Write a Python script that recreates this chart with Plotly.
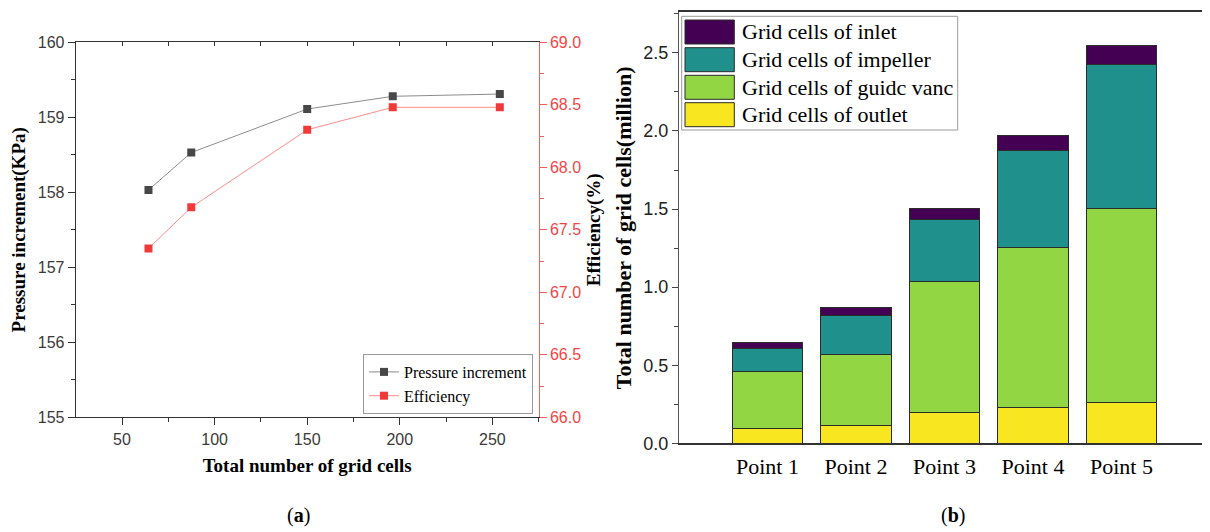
import plotly.graph_objects as go

# ---------------- data ----------------
grid_cells = [64.3, 87.4, 150, 196.2, 254]          # total grid cells (x 10^4)
pressure = [158.03, 158.53, 159.11, 159.28, 159.31]  # KPa
efficiency = [67.35, 67.68, 68.30, 68.48, 68.48]     # %

points = ["Point 1", "Point 2", "Point 3", "Point 4", "Point 5"]
outlet = [0.096, 0.113, 0.197, 0.231, 0.263]
guide_vane = [0.361, 0.456, 0.837, 1.021, 1.239]
impeller = [0.147, 0.251, 0.400, 0.620, 0.921]
inlet = [0.039, 0.050, 0.068, 0.096, 0.126]

bar_names = ["Grid cells of outlet", "Grid cells of guidc vanc",
             "Grid cells of impeller", "Grid cells of inlet"]
bar_values = [outlet, guide_vane, impeller, inlet]
bar_colors = ["#f8e621", "#92d644", "#20908c", "#440154"]

OFF = 8                      # page body margin
W, H = 1210 - OFF, 532 - OFF
def px(x): return (x - OFF) / W
def py(y): return 1 - (y - OFF) / H

SERIF = "Liberation Serif"
SANS = "Liberation Sans"

fig = go.Figure()

# ---------------- left chart ----------------
fig.add_trace(go.Scatter(
    x=grid_cells, y=pressure, name="Pressure increment", mode="lines+markers",
    line=dict(color="#8c8c8c", width=1),
    marker=dict(symbol="square", size=8, color="#474747", line=dict(color="#474747", width=0)),
    xaxis="x", yaxis="y", legend="legend"))
fig.add_trace(go.Scatter(
    x=grid_cells, y=efficiency, name="Efficiency", mode="lines+markers",
    line=dict(color="#ff8c8c", width=1),
    marker=dict(symbol="square", size=8, color="#f03a3a", line=dict(width=0)),
    xaxis="x", yaxis="y2", legend="legend"))
# invisible trace so the top mirror axis is drawn
fig.add_trace(go.Scatter(
    x=grid_cells, y=pressure, mode="markers", marker=dict(opacity=0),
    showlegend=False, hoverinfo="skip", xaxis="x3", yaxis="y"))

# ---------------- right chart ----------------
for name, vals, col in zip(bar_names, bar_values, bar_colors):
    fig.add_trace(go.Bar(
        x=points, y=vals, name=name, marker=dict(color=col, line=dict(color="#2b2b2b", width=1)),
        width=0.8, xaxis="x2", yaxis="y3", showlegend=False))

xl0, xl1 = px(75.7), px(538.7)
yl0, yl1 = py(417.3), py(42.3)
xr0, xr1 = px(679), 1.0
yr0, yr1 = py(443.3), py(12.3)

tickfont_l = dict(family=SANS, size=16, color="#3a3a3a")

fig.update_layout(
    width=W, height=H, autosize=False,
    margin=dict(l=0, r=0, t=0, b=0, autoexpand=False),
    paper_bgcolor="white", plot_bgcolor="white",
    barmode="stack",
    xaxis=dict(
        domain=[xl0, xl1], anchor="y", range=[25, 275], automargin=False,
        tickvals=[50, 100, 150, 200, 250], ticks="outside", ticklen=7, tickwidth=1,
        tickcolor="#333", showline=True, linecolor="#333", linewidth=1,
        minor=dict(ticks="outside", ticklen=4, tickvals=[75, 125, 175, 225, 275], tickcolor="#333"),
        showgrid=False, zeroline=False, tickfont=tickfont_l,
        title=dict(text="<b>Total number of grid cells</b>",
                   font=dict(family=SERIF, size=19, color="black"), standoff=12)),
    xaxis3=dict(
        overlaying="x", anchor="y", side="top", range=[25, 275], automargin=False,
        tickvals=[50, 75, 100, 125, 150, 175, 200, 225, 250],
        ticks="inside", ticklen=4, tickcolor="#333", showticklabels=False,
        showline=True, linecolor="#333", linewidth=1, showgrid=False, zeroline=False),
    yaxis=dict(
        domain=[yl0, yl1], anchor="x", range=[155, 160], dtick=1, automargin=False,
        ticks="outside", ticklen=7, tickcolor="#333", showline=True, linecolor="#333", linewidth=1,
        minor=dict(ticks="outside", ticklen=4, dtick=0.5, tickcolor="#333"),
        showgrid=False, zeroline=False, tickfont=tickfont_l,
        title=dict(text="<b>Pressure increment(KPa)</b>",
                   font=dict(family=SERIF, size=19, color="black"), standoff=8)),
    yaxis2=dict(
        overlaying="y", anchor="x", side="right", range=[66, 69], dtick=0.5, tickformat=".1f",
        automargin=False,
        ticks="outside", ticklen=7, tickcolor="#ff5a5a", showline=True, linecolor="#ff5a5a", linewidth=1,
        minor=dict(ticks="outside", ticklen=4, dtick=0.25, tickcolor="#ff5a5a"),
        showgrid=False, zeroline=False, tickfont=dict(family=SANS, size=16, color="#f24545"),
        title=dict(text="<b>Efficiency(%)</b>",
                   font=dict(family=SERIF, size=19, color="black"), standoff=6)),
    xaxis2=dict(
        domain=[xr0, xr1], anchor="y3", range=[-1, 5], type="category", automargin=False,
        ticks="", showline=True, linecolor="#333", linewidth=2, mirror=True,
        showgrid=False, zeroline=False, ticklabelstandoff=2,
        tickfont=dict(family=SERIF, size=22, color="black")),
    yaxis3=dict(
        domain=[yr0, yr1], anchor="x2", range=[0, 2.76], dtick=0.5, tickformat=".1f",
        automargin=False,
        ticks="outside", ticklen=6, tickcolor="#444", showline=True, linecolor="#555", linewidth=1,
        minor=dict(ticks="outside", ticklen=4, dtick=0.25, tickcolor="#444"),
        showgrid=False, zeroline=False, tickfont=dict(family=SANS, size=18, color="#222"),
        title=dict(text="<b>Total number of grid cells(million)</b>",
                   font=dict(family=SERIF, size=22, color="black"), standoff=5)),
    legend=dict(
        x=px(533), y=py(414), xanchor="right", yanchor="bottom", traceorder="normal",
        bgcolor="white", bordercolor="#999", borderwidth=1,
        font=dict(family=SERIF, size=16, color="black"), tracegroupgap=0),
    showlegend=True,
)

# ---------------- custom legend for the stacked bars ----------------
shapes = [dict(type="rect", xref="paper", yref="paper",
               x0=px(681.7), x1=px(957.7), y0=py(130), y1=py(16.3),
               line=dict(color="#999", width=1), fillcolor="white", layer="above")]
annotations = []
row_tops = [20, 47.7, 75.3, 102.7]
legend_order = list(range(len(bar_names)))[::-1]  # inlet first
for top, idx in zip(row_tops, legend_order):
    shapes.append(dict(type="rect", xref="paper", yref="paper",
                       x0=px(685), x1=px(734.3), y0=py(top + 24), y1=py(top),
                       line=dict(color="#2b2b2b", width=1), fillcolor=bar_colors[idx], layer="above"))
    annotations.append(dict(xref="paper", yref="paper", x=px(740), y=py(top + 12),
                            xanchor="left", yanchor="middle", showarrow=False,
                            text=bar_names[idx], font=dict(family=SERIF, size=22, color="black")))

annotations.append(dict(xref="paper", yref="paper", x=px(298), y=py(515), xanchor="center",
                        yanchor="middle", showarrow=False, text="(<b>a</b>)",
                        font=dict(family=SERIF, size=20, color="black")))
annotations.append(dict(xref="paper", yref="paper", x=px(953), y=py(515), xanchor="center",
                        yanchor="middle", showarrow=False, text="(<b>b</b>)",
                        font=dict(family=SERIF, size=20, color="black")))

fig.update_layout(shapes=shapes, annotations=annotations)

fig.write_html("out.html")
